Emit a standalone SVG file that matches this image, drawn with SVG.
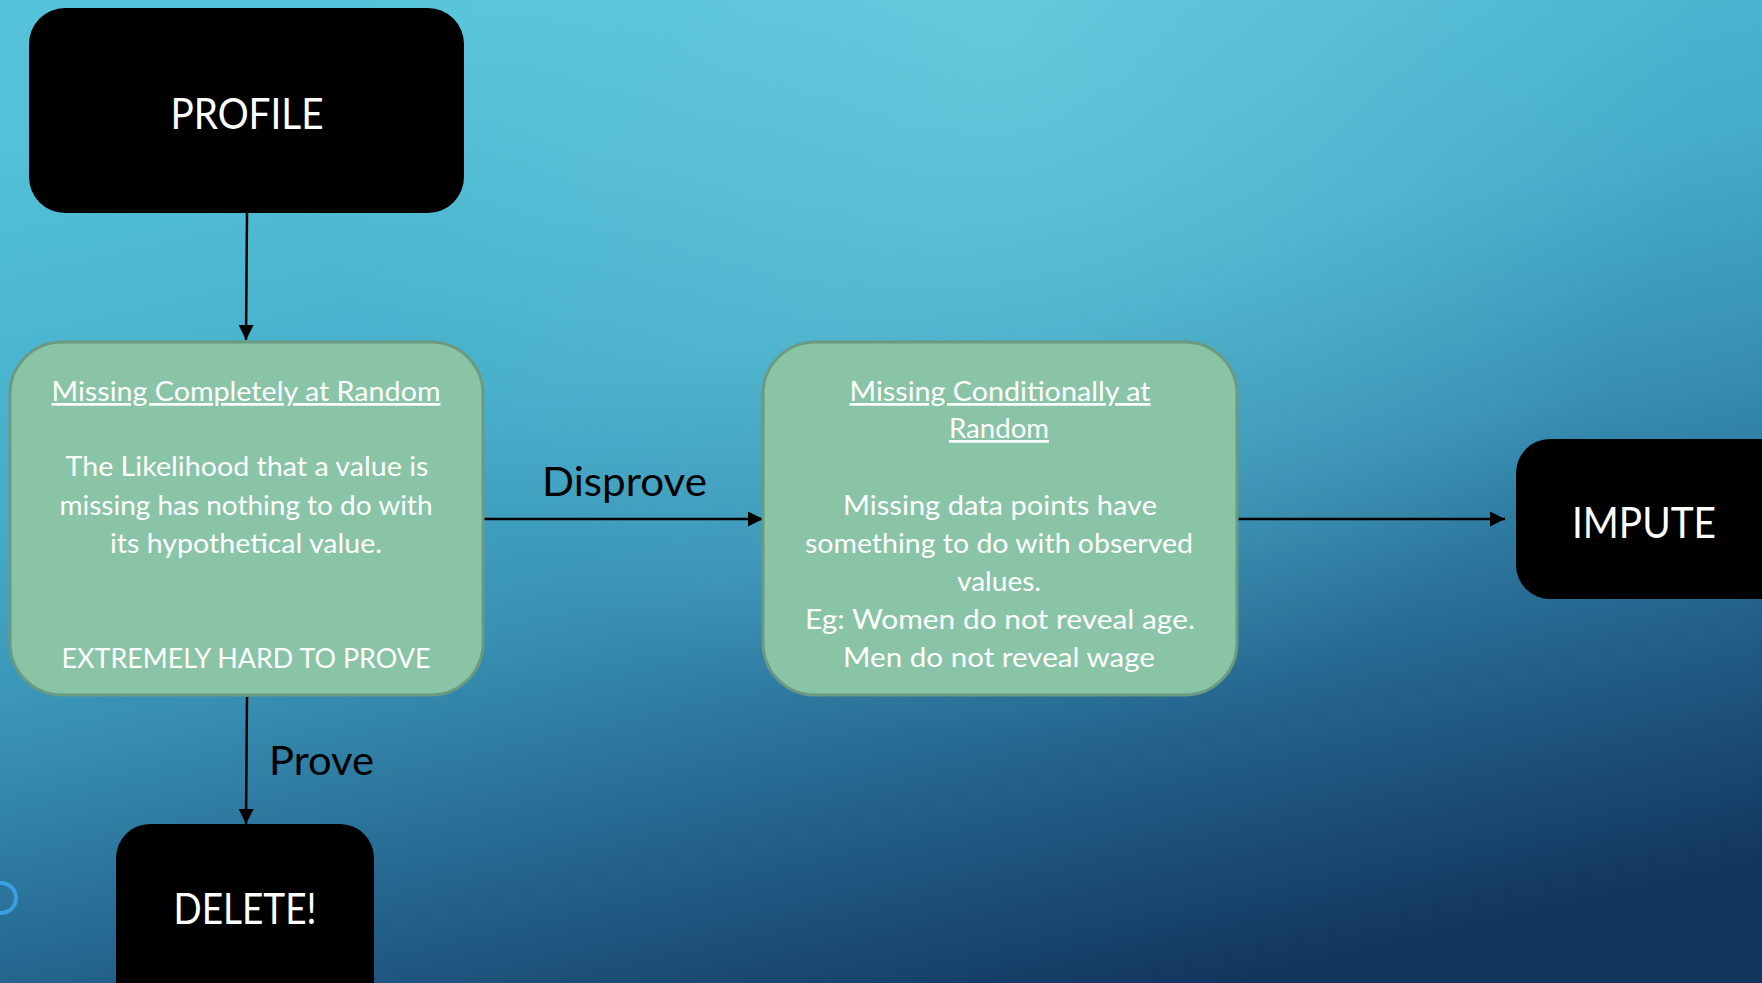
<svg xmlns="http://www.w3.org/2000/svg" width="1762" height="983" viewBox="0 0 1762 983">
<defs>
<linearGradient id="bg" x1="0.3" y1="0" x2="0.7" y2="1">
<stop offset="0" stop-color="#55c2d9"/>
<stop offset="0.35" stop-color="#45acc9"/>
<stop offset="0.55" stop-color="#3890b3"/>
<stop offset="0.75" stop-color="#25668f"/>
<stop offset="1" stop-color="#12355e"/>
</linearGradient>
<radialGradient id="hl" cx="1000" cy="40" r="700" gradientUnits="userSpaceOnUse">
<stop offset="0" stop-color="#7dd8e6" stop-opacity="0.45"/>
<stop offset="1" stop-color="#7dd8e6" stop-opacity="0"/>
</radialGradient>
<marker id="arr" viewBox="0 0 10 10" refX="10" refY="5" markerWidth="6" markerHeight="6" markerUnits="strokeWidth" orient="auto">
<path d="M0,0 L10,5 L0,10 z" fill="#000"/>
</marker>
</defs>
<style>
.blk{fill:#000}
.grn{fill:#89c4a7;stroke:#6b9a80;stroke-width:3}
.wt{fill:#fff;font-family:Lato,"Noto Sans",sans-serif;text-anchor:middle}
.lbl{fill:#000;font-family:Lato,"Noto Sans",sans-serif}
.big{font-size:42px}
.body{font-size:27px}
.ln{stroke:#000;stroke-width:2.5;fill:none}
</style>
<rect width="1762" height="983" fill="url(#bg)"/>
<rect width="1762" height="983" fill="url(#hl)"/>
<circle cx="1" cy="898" r="15" fill="none" stroke="#3a9fe2" stroke-width="4"/>

<g id="connectors">
<line class="ln" x1="247" y1="213" x2="246" y2="340" marker-end="url(#arr)"/>
<line class="ln" x1="247" y1="697" x2="246" y2="824" marker-end="url(#arr)"/>
<line class="ln" x1="484" y1="519" x2="763" y2="519" marker-end="url(#arr)"/>
<line class="ln" x1="1238" y1="519" x2="1505" y2="519" marker-end="url(#arr)"/>
<text class="lbl" x="542" y="496" font-size="40" textLength="165" lengthAdjust="spacingAndGlyphs">Disprove</text>
<text class="lbl" x="269" y="775" font-size="40" textLength="105" lengthAdjust="spacingAndGlyphs">Prove</text>
</g>

<g id="profile">
<rect class="blk" x="29" y="8" width="435" height="205" rx="36"/>
<text class="wt big" x="247" y="129" textLength="153" lengthAdjust="spacingAndGlyphs">PROFILE</text>
</g>

<g id="mcar">
<rect class="grn" x="10" y="342" width="473" height="353" rx="52"/>
<text class="wt body" x="246" y="401" text-decoration="underline" textLength="389" lengthAdjust="spacingAndGlyphs">Missing  Completely  at Random</text>
<text class="wt body" x="247" y="476" textLength="363" lengthAdjust="spacingAndGlyphs">The Likelihood  that  a value is</text>
<text class="wt body" x="246" y="515" textLength="373" lengthAdjust="spacingAndGlyphs">missing has nothing to do with</text>
<text class="wt body" x="246" y="553" textLength="272" lengthAdjust="spacingAndGlyphs">its hypothetical  value.</text>
<text class="wt body" x="246" y="668" textLength="369" lengthAdjust="spacingAndGlyphs">EXTREMELY  HARD TO PROVE</text>
</g>

<g id="mcondar">
<rect class="grn" x="763" y="342" width="474" height="353" rx="52"/>
<text class="wt body" x="1000" y="401" text-decoration="underline" textLength="301" lengthAdjust="spacingAndGlyphs">Missing  Conditionally  at</text>
<text class="wt body" x="999" y="438" text-decoration="underline" textLength="100" lengthAdjust="spacingAndGlyphs">Random</text>
<text class="wt body" x="1000" y="515" textLength="314" lengthAdjust="spacingAndGlyphs">Missing  data points have</text>
<text class="wt body" x="999" y="553" textLength="388" lengthAdjust="spacingAndGlyphs">something to do with observed</text>
<text class="wt body" x="999" y="591" textLength="84" lengthAdjust="spacingAndGlyphs">values.</text>
<text class="wt body" x="1000" y="629" textLength="390" lengthAdjust="spacingAndGlyphs">Eg: Women do not reveal age.</text>
<text class="wt body" x="999" y="667" textLength="312" lengthAdjust="spacingAndGlyphs">Men do not reveal wage</text>
</g>

<g id="impute">
<rect class="blk" x="1516" y="439" width="300" height="160" rx="34"/>
<text class="wt big" x="1644" y="538" textLength="144" lengthAdjust="spacingAndGlyphs">IMPUTE</text>
</g>

<g id="delete">
<rect class="blk" x="116" y="824" width="258" height="200" rx="34"/>
<text class="wt big" x="245" y="924" textLength="143" lengthAdjust="spacingAndGlyphs">DELETE!</text>
</g>
</svg>
